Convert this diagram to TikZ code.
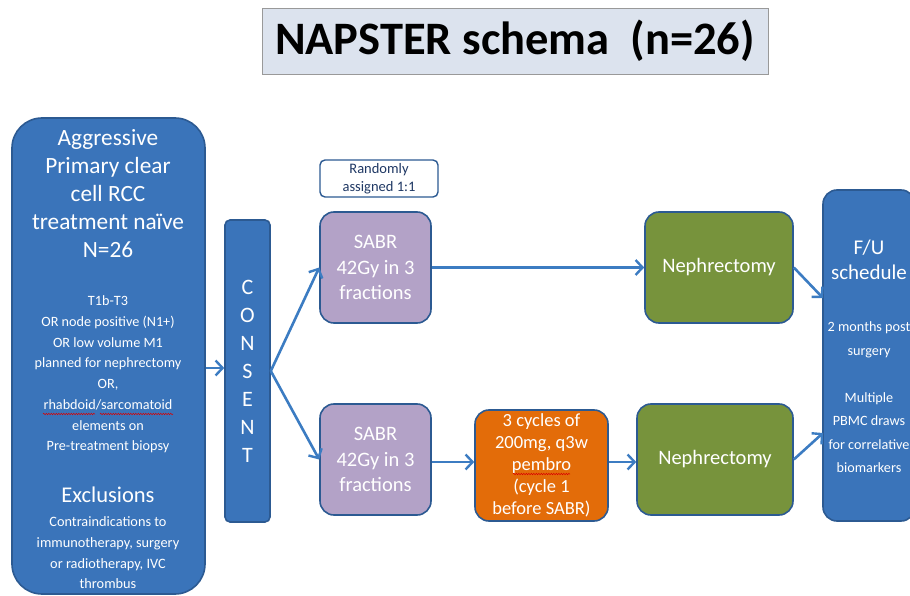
\documentclass[tikz,border=0pt]{standalone}
\usepackage{fontspec}
\setmainfont{Carlito}
\usetikzlibrary{arrows.meta,decorations.pathmorphing}

\definecolor{armblue}{HTML}{3A74BA}
\definecolor{edgeblue}{HTML}{2C5A92}
\definecolor{flowblue}{HTML}{3C7CC2}
\definecolor{sabrpurple}{HTML}{B3A2C7}
\definecolor{nephgreen}{HTML}{77933C}
\definecolor{pembroorange}{HTML}{E36C09}
\definecolor{titlefill}{HTML}{DCE3EE}
\definecolor{notetext}{HTML}{1F3864}

\tikzset{
  stagebox/.style={draw=edgeblue, line width=1.6pt, rounded corners=14pt,
    text=white, align=center, inner sep=0pt},
  flow/.style={draw=flowblue, line width=2.6pt,
    -{Straight Barb[length=7pt, width=15pt, line width=2.4pt]}},
  spell/.style={draw=red!85!black, line width=0.5pt, decorate,
    decoration={snake, amplitude=0.7pt, segment length=2.5pt}},
  bigtxt/.style={text=white, align=center, font=\fontsize{23.3}{27.8}\selectfont},
  smalltxt/.style={text=white, align=center, font=\fontsize{14.2}{20.7}\selectfont}
}

\begin{document}
\begin{tikzpicture}[x=1pt, y=-1pt]
  \useasboundingbox (0,0) rectangle (910,596);

  % title
  \node[draw=gray!80, line width=0.8pt, fill=titlefill, minimum width=506pt, minimum height=66pt,
    font=\fontsize{46.5}{50}\selectfont\bfseries] (title) at (515,41) {NAPSTER schema\ \ (n=26)};

  % eligibility column
  \node[stagebox, fill=armblue, rounded corners=30pt, minimum width=193pt, minimum height=476pt] (elig) at (108.5,356) {};
  \node[bigtxt] (elighead) at (108,193.5) {Aggressive\\Primary clear\\cell RCC\\treatment naïve\\N=26};
  \node[smalltxt] (incl) at (108,374.5) {T1b-T3\\OR node positive (N1+)\\OR low volume M1\\planned for nephrectomy\\OR,\\rhabdoid/sarcomatoid\\elements on\\Pre-treatment biopsy};
  \node[bigtxt, font=\fontsize{22.5}{26}\selectfont] (exclhead) at (108,495) {Exclusions};
  \node[smalltxt, font=\fontsize{14.3}{20.7}\selectfont] (excl) at (108,553) {Contraindications to\\immunotherapy, surgery\\or radiotherapy, IVC\\thrombus};
  \draw[spell] (43,414) -- (95,414);
  \draw[spell] (100,414) -- (173,414);

  % consent bar
  \node[stagebox, fill=armblue, rounded corners=5pt, minimum width=45pt, minimum height=302pt,
    font=\fontsize{22}{28}\selectfont] (consent) at (247.5,371) {C\\O\\N\\S\\E\\N\\T};

  % randomisation
  \node[draw=edgeblue, line width=1.4pt, fill=white, rounded corners=5pt, minimum width=118pt, minimum height=37pt,
    text=notetext, align=center, inner sep=0pt, font=\fontsize{14.5}{18}\selectfont] (random) at (379,178.5) {Randomly\\assigned 1:1};

  % arm A
  \node[stagebox, fill=sabrpurple, minimum width=111pt, minimum height=111pt,
    font=\fontsize{20.5}{25.5}\selectfont] (sabrA) at (375.5,267.5) {SABR\\42Gy in 3\\fractions};
  \node[stagebox, fill=nephgreen, minimum width=148pt, minimum height=111pt,
    font=\fontsize{20.5}{24}\selectfont] (nephA) at (719,267.5) {Nephrectomy};

  % arm B
  \node[stagebox, fill=sabrpurple, minimum width=111pt, minimum height=111pt,
    font=\fontsize{20.5}{25.5}\selectfont] (sabrB) at (375.5,459.5) {SABR\\42Gy in 3\\fractions};
  \node[stagebox, fill=pembroorange, minimum width=133pt, minimum height=111pt,
    font=\fontsize{18.5}{22}\selectfont] (pembro) at (541.5,465.5) {3 cycles of\\200mg, q3w\\pembro\\(cycle 1\\before SABR)};
  \draw[spell] (513,474) -- (570,474);
  \node[stagebox, fill=nephgreen, minimum width=156pt, minimum height=111pt,
    font=\fontsize{20.5}{24}\selectfont] (nephB) at (715,459.5) {Nephrectomy};

  % follow-up
  \node[stagebox, fill=armblue, minimum width=92pt, minimum height=331pt] (fu) at (869,355.5) {};
  \node[bigtxt, font=\fontsize{21}{25}\selectfont] (fuhead) at (869,259.5) {F/U\\schedule};
  \node[smalltxt, font=\fontsize{14.2}{23.5}\selectfont] (futext) at (869,397.5) {2 months post\\surgery\\\\Multiple\\PBMC draws\\for correlative\\biomarkers};
  \coordinate (fuinA) at (823,298);
  \coordinate (fuinB) at (823,433);

  % connectors
  \draw[flow] (elig.east |- 0,368) -- (consent.west |- 0,368);
  \draw[flow] (consent.east) -- (sabrA.west);
  \draw[flow] (consent.east) -- (sabrB.west);
  \draw[flow] (sabrA.east) -- (nephA.west);
  \draw[flow] (sabrB.east |- 0,462) -- (pembro.west |- 0,462);
  \draw[flow] (pembro.east |- 0,462) -- (nephB.west |- 0,462);
  \draw[flow] (nephA.east) -- (fuinA);
  \draw[flow] (nephB.east) -- (fuinB);
\end{tikzpicture}
\end{document}
